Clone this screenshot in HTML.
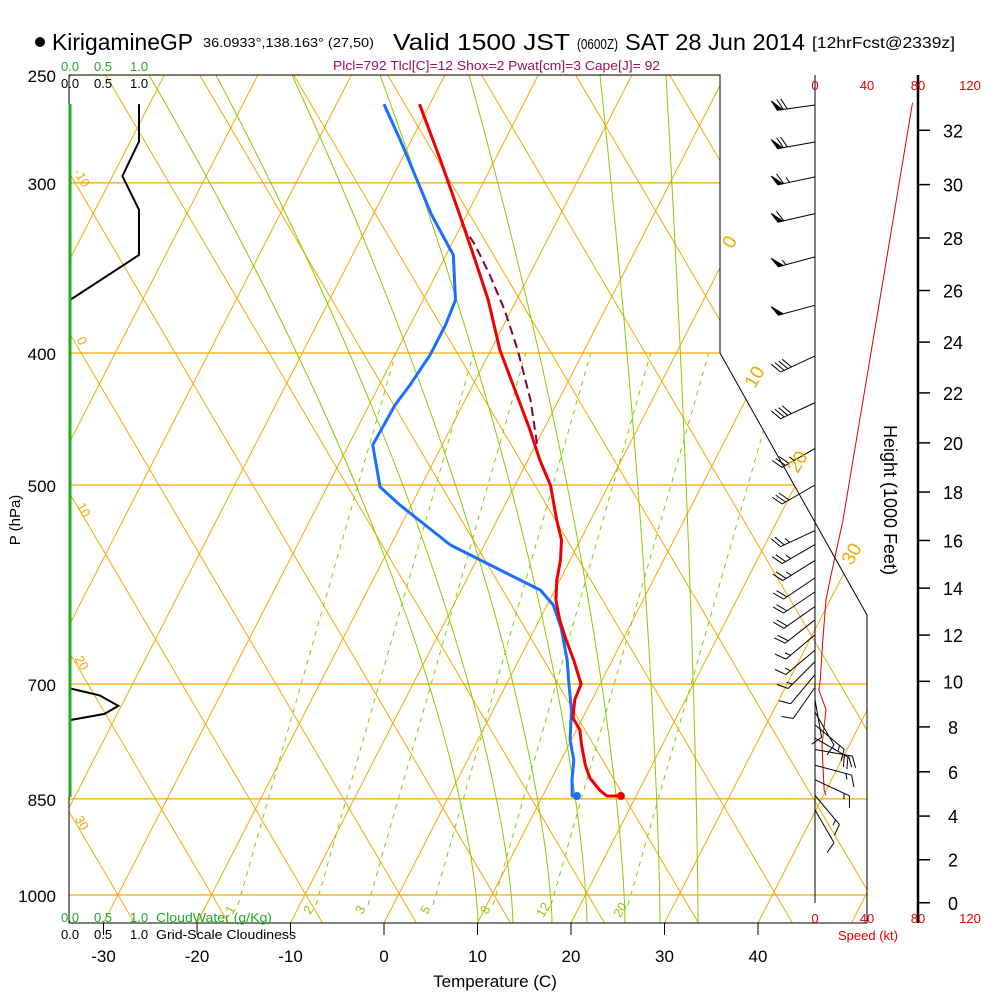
<!DOCTYPE html>
<html><head><meta charset="utf-8"><style>
html,body{margin:0;padding:0;background:#fff;}
svg{display:block;font-family:"Liberation Sans",sans-serif;}
</style></head><body>
<svg id="chart" width="1000" height="1000" viewBox="0 0 1000 1000" xmlns="http://www.w3.org/2000/svg">
<rect width="1000" height="1000" fill="#fff"/>
<defs><clipPath id="plotclip"><polygon points="69,75 720,75 720,353 867,615 867,923 69,923"/></clipPath></defs>
<g id="grid" clip-path="url(#plotclip)"></g>
<g id="marks"></g>
<g id="frame" fill="none" stroke="#000" stroke-width="1">
<polyline points="69,75 720,75 720,353 867,615 867,923 69,923 69,75"/>
<line x1="815" y1="75" x2="815" y2="903"/>
<line x1="918" y1="75" x2="918" y2="923" stroke-width="2.5"/>
<line x1="70" y1="104" x2="70" y2="797" stroke="#22aa22" stroke-width="3"/>
</g>
<g id="texts">
<circle cx="40" cy="42" r="5" fill="#000"/>
<text x="52" y="50" font-size="23" textLength="141" lengthAdjust="spacingAndGlyphs">KirigamineGP</text>
<text x="203" y="47" font-size="13" textLength="171" lengthAdjust="spacingAndGlyphs">36.0933°,138.163° (27,50)</text>
<text x="393" y="50" font-size="23" textLength="177" lengthAdjust="spacingAndGlyphs">Valid 1500 JST</text>
<text x="577" y="49" font-size="15" textLength="41" lengthAdjust="spacingAndGlyphs">(0600Z)</text>
<text x="625" y="50" font-size="23" textLength="180" lengthAdjust="spacingAndGlyphs">SAT 28 Jun 2014</text>
<text x="812" y="48" font-size="16" textLength="143" lengthAdjust="spacingAndGlyphs">[12hrFcst@2339z]</text>
<text x="333" y="70" font-size="13" fill="#a0105a" textLength="327" lengthAdjust="spacingAndGlyphs">Plcl=792 Tlcl[C]=12 Shox=2 Pwat[cm]=3 Cape[J]= 92</text>
<g font-size="13" fill="#22aa22"><text x="61" y="71">0.0</text><text x="94" y="71">0.5</text><text x="130" y="71">1.0</text></g>
<g font-size="13" fill="#000"><text x="61" y="88">0.0</text><text x="94" y="88">0.5</text><text x="130" y="88">1.0</text></g>
<g font-size="13" fill="#22aa22"><text x="61" y="922">0.0</text><text x="94" y="922">0.5</text><text x="130" y="922">1.0</text><text x="156" y="922" textLength="116" lengthAdjust="spacingAndGlyphs">CloudWater (g/Kg)</text></g>
<g font-size="13" fill="#000"><text x="61" y="939">0.0</text><text x="94" y="939">0.5</text><text x="130" y="939">1.0</text><text x="156" y="939" textLength="140" lengthAdjust="spacingAndGlyphs">Grid-Scale Cloudiness</text></g>
<text x="495" y="987" font-size="17" text-anchor="middle">Temperature (C)</text>
<text transform="translate(20,520) rotate(-90)" font-size="15" text-anchor="middle">P (hPa)</text>
<text transform="translate(884,500) rotate(90)" font-size="18" text-anchor="middle">Height (1000 Feet)</text>
<g font-size="13" fill="#e00000" text-anchor="middle"><text x="815" y="90">0</text><text x="867" y="90">40</text><text x="918" y="90">80</text><text x="970" y="90">120</text></g>
<g font-size="13" fill="#e00000" text-anchor="middle"><text x="815" y="923">0</text><text x="867" y="923">40</text><text x="918" y="923">80</text><text x="970" y="923">120</text><text x="868" y="940">Speed (kt)</text></g>
</g>
<script>
const pLevels=[250,300,400,500,700,850,1000];
const tempTicks=[-30,-20,-10,0,10,20,30,40];
const heightTicks=[0,2,4,6,8,10,12,14,16,18,20,22,24,26,28,30,32];
const mixRatios=["1","2","3","5","8","12","20"];
const mixRatioX=[238,316,368,433,493,551,628];
const tempP=[262.6,288.6,316.8,341.8,365.7,398,425.8,455.6,479.3,500,530.5,548.7,567.6,587.1,607.3,628.2,649.8,672.2,700,719.2,741.4,756.6,776,802.7,820.5,837.4,845.9,845.9];
const tempC=[-39.6,-34.3,-29.2,-25.1,-21.5,-17.5,-13.7,-9.9,-7.2,-4.7,-2.1,-0.5,0.5,1.2,2.2,3.7,5.5,7.4,9.5,9.7,10.5,11.9,12.9,14.4,15.6,17.3,18.4,19.9];
const dewP=[262.6,279,296,316.8,338.9,365.7,381.5,401.3,422.2,436.7,467.3,501.7,517.2,553.4,577.3,597.2,612.5,636.7,672.2,700,731.4,769.5,796,823.3,845.9,845.9];
const dewC=[-43.4,-39.7,-36.2,-32.2,-27.7,-25.0,-24.7,-24.7,-25.2,-25.7,-25.9,-22.8,-19.7,-12.1,-5.4,0,2.2,4.3,6.7,8.2,9.9,11.4,12.9,13.8,14.7,15.2];
const parcelP=[322.2,333.3,350.6,371.9,398,433,467.3];
const parcelC=[-28.4,-25.9,-22.7,-19.2,-15.6,-11.5,-8.3];
const cloudTopP=[262.6,279.7,296.6,314,338.9,365.7];
const cloudTopV=[1.0,1.0,0.76,1.0,1.0,0.0];
const cloudLowP=[705.2,713.6,726.4,736.2,744];
const cloudLowV=[0,0.43,0.7,0.5,0];
const speedP=[262,366,530.5,587,607,650,696,707,731,776,837,845];
const speedKt=[75,49.8,21.5,11.5,8.5,6,4,3,8.5,5.4,7,8.5];
const windP=[263,280,297,316,340,369,402,435,470,500,540,553,568,585,599,614,628,644,661,674,689,704,719,734,750,767,782,803,823,845,866];
const windDir=[262,260,258,257,255,255,245,245,240,240,245,240,238,236,236,235,232,230,230,225,220,215,170,150,130,120,100,105,115,140,150];
const windKt=[70,70,65,60,55,50,40,40,35,30,25,25,25,20,20,20,20,15,15,15,10,10,10,10,15,20,20,15,15,15,10];

const NS='http://www.w3.org/2000/svg';
function yP(p){return 895-591.5*Math.log(1000/p);}
function xT(t,p){return 384+9.35*t+0.513*(895-yP(p));}
function xTick(t){return 384+9.35*t;}
function xSpd(s){return 815+1.3*s;}
function xCloud(v){return 70+69*v;}
function hToP(kft){const h=kft*304.8;return 1013.25*Math.pow(1-2.25577e-5*h,5.25588);}
function mk(tag,attrs,parent){const e=document.createElementNS(NS,tag);for(const k in attrs)e.setAttribute(k,attrs[k]);parent.appendChild(e);return e;}
const grid=document.getElementById('grid'),marks=document.getElementById('marks'),texts=document.getElementById('texts'),frame=document.getElementById('frame');
const OR='#f5a800';
for(let k=-8;k<=5;k++){const x0=384+93.5*k;
 const l=mk('line',{x1:x0,y1:923,x2:x0+848/1.95,y2:75,stroke:OR,'stroke-width':1},grid);
 
 }
for(let k=-1;k<=13;k++){const x0=118+94*k;
 const l=mk('line',{x1:x0+28/1.7,y1:923,x2:x0-820/1.7,y2:75,stroke:OR,'stroke-width':1},grid);
 
 }
pLevels.forEach(p=>{const y=yP(p);
 const l=mk('line',{x1:69,y1:y,x2:900,y2:y,stroke:OR,'stroke-width':1.2},grid);
 
 
 const t=mk('text',{x:56,y:y+7,'font-size':17,'text-anchor':'end'},texts);t.textContent=p;
 
 });
const maBot=[478,513,552,587,625,660,698],maTop=[149,216,292,380,469,600,666];
maBot.forEach((xb,i)=>{let pts=[];for(let y=923;y>=75;y-=8){const t=(923-y)/848;pts.push((xb-(xb-maTop[i])*Math.pow(t,1.5)).toFixed(1)+','+y);}
 const l=mk('polyline',{points:pts.join(' '),fill:'none',stroke:'#88cc00','stroke-width':1},grid);
 
 });
mixRatios.forEach((m,i)=>{const xb=mixRatioX[i];
 const l=mk('line',{x1:xb,y1:905,x2:xb+552/3.5,y2:353,stroke:'#88cc00','stroke-width':1,'stroke-dasharray':'5,5'},grid);
 
 
 const t=mk('text',{transform:`translate(${xb-4},912) rotate(-60)`,'font-size':13,fill:'#88cc00','text-anchor':'middle'},texts);t.textContent=m;
 
 });
[[-10,78,180],[0,78,343],[10,80,512],[20,78,665],[30,78,825]].forEach(a=>{const t=mk('text',{transform:`translate(${a[1]},${a[2]}) rotate(60)`,'font-size':13,fill:OR,'text-anchor':'middle'},texts);t.textContent=a[0];
 
 });
[[0,735,245],[10,760,380],[20,803,465],[30,857,557]].forEach(a=>{const t=mk('text',{transform:`translate(${a[1]},${a[2]}) rotate(-60)`,'font-size':19,fill:OR,'text-anchor':'middle'},texts);t.textContent=a[0];
 
 });
tempTicks.forEach(t=>{const x=xTick(t);
 const l=mk('line',{x1:x,y1:923,x2:x,y2:935,stroke:'#000'},frame);
 
 
 const tx=mk('text',{x:x,y:962,'font-size':17,'text-anchor':'middle'},texts);tx.textContent=t;
 
 });
heightTicks.forEach(h=>{const y=yP(hToP(h));
 const l=mk('line',{x1:918,y1:y,x2:930,y2:y,stroke:'#000','stroke-width':1.5},frame);
 
 
 const tx=mk('text',{x:953,y:y+7,'font-size':18,'text-anchor':'middle'},texts);tx.textContent=h;
 
 });
function poly(P,X,attrs,name){const pts=P.map((p,i)=>X(i).toFixed(1)+','+yP(p).toFixed(1)).join(' ');
 const l=mk('polyline',Object.assign({points:pts,fill:'none'},attrs),marks);
 
 return l;}
poly(cloudTopP,i=>xCloud(cloudTopV[i]),{stroke:'#000','stroke-width':2},'cloudiness-upper');
poly(cloudLowP,i=>xCloud(cloudLowV[i]),{stroke:'#000','stroke-width':2},'cloudiness-lower');
poly(speedP,i=>xSpd(speedKt[i]),{stroke:'#e00000','stroke-width':1},'wind-speed-line');
poly(parcelP,i=>xT(parcelC[i],parcelP[i]),{stroke:'#800040','stroke-width':2,'stroke-dasharray':'9,5'},'parcel-path');
poly(dewP,i=>xT(dewC[i],dewP[i]),{stroke:'#1a6fff','stroke-width':3,'stroke-linejoin':'round'},'dewpoint-profile');
poly(tempP,i=>xT(tempC[i],tempP[i]),{stroke:'#ee0000','stroke-width':3,'stroke-linejoin':'round'},'temperature-profile');
const sd=mk('circle',{cx:xT(tempC[tempC.length-1],tempP[tempP.length-1]),cy:yP(tempP[tempP.length-1]),r:4,fill:'#ee0000'},marks);


const dd=mk('circle',{cx:xT(dewC[dewC.length-1],dewP[dewP.length-1]),cy:yP(dewP[dewP.length-1]),r:4,fill:'#1a6fff'},marks);


windP.forEach((p,i)=>{const y=yP(p),d=windDir[i]*Math.PI/180,L=38;
 const vx=Math.sin(d),vy=-Math.cos(d);const ex=815+L*vx,ey=y+L*vy;
 const g=mk('g',{stroke:'#000',fill:'#000','stroke-width':1},marks);
 
 
 mk('line',{x1:815,y1:y,x2:ex,y2:ey},g);
 const a=Math.atan2(vy,vx)+65*Math.PI/180;const fx=Math.cos(a),fy=Math.sin(a);
 let s=windKt[i],pos=0;
 while(s>=50){const bx=ex-vx*pos,by=ey-vy*pos;
  mk('polygon',{points:`${bx},${by} ${bx+fx*11},${by+fy*11} ${bx-vx*5},${by-vy*5}`},g);pos+=6;s-=50;}
 while(s>=10){const bx=ex-vx*pos,by=ey-vy*pos;mk('line',{x1:bx,y1:by,x2:bx+fx*12,y2:by+fy*12},g);pos+=4;s-=10;}
 if(s>=5){const bx=ex-vx*(pos+2),by=ey-vy*(pos+2);mk('line',{x1:bx,y1:by,x2:bx+fx*6,y2:by+fy*6},g);}
});
</script>
</svg>
</body></html>
